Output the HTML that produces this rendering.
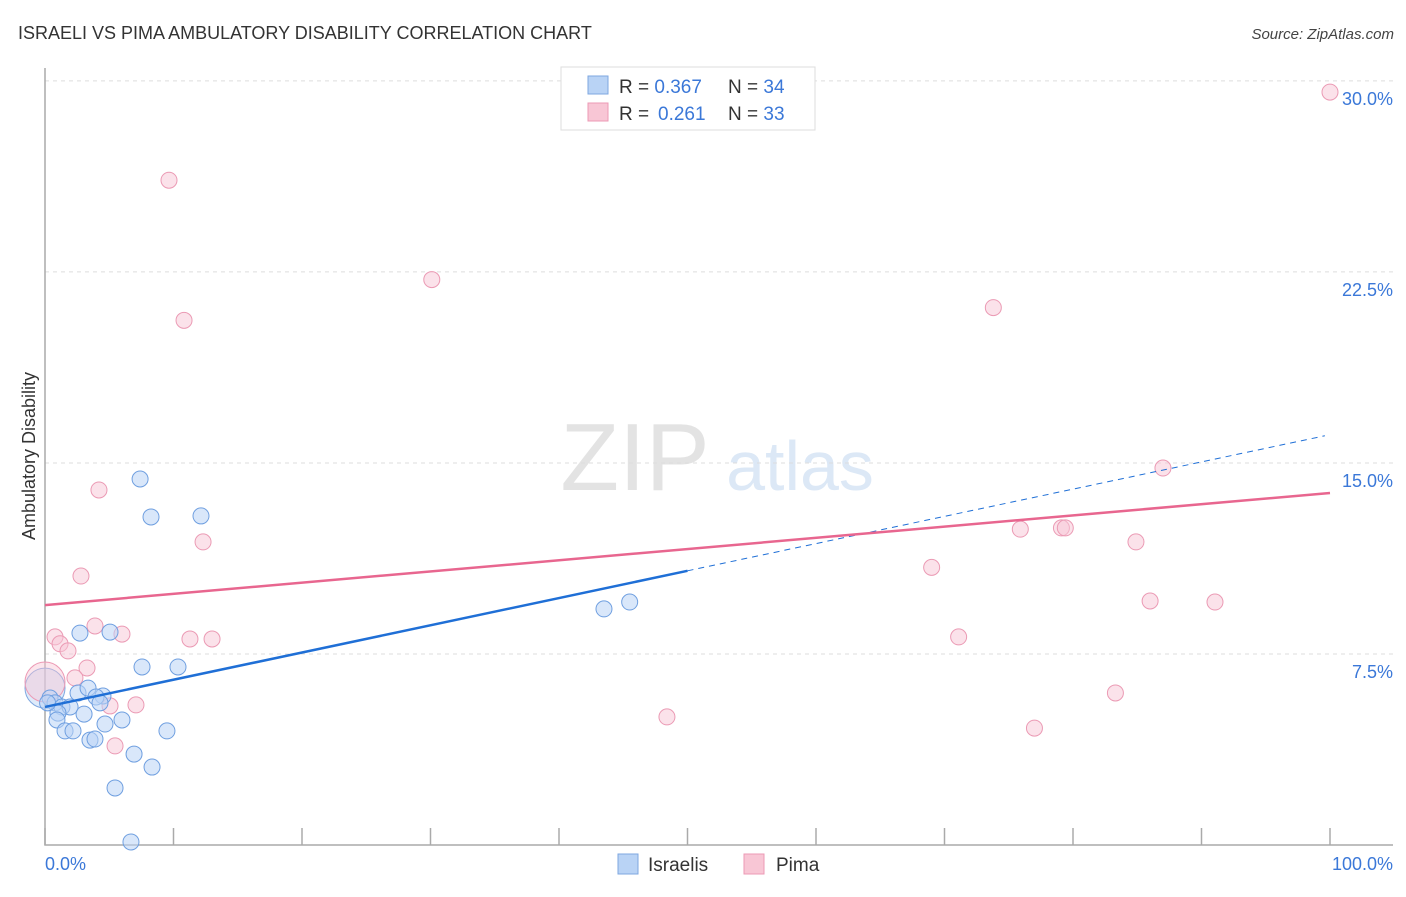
<!DOCTYPE html>
<html><head><meta charset="utf-8"><style>
body{margin:0;background:#fff;font-family:"Liberation Sans",sans-serif;}
svg text{font-family:"Liberation Sans",sans-serif;}
</style></head><body>
<svg id="chart" width="1406" height="892" viewBox="0 0 1406 892">
<text x="18" y="39" font-size="18" fill="#333">ISRAELI VS PIMA AMBULATORY DISABILITY CORRELATION CHART</text>
<text x="1394" y="39" font-size="15" fill="#444" font-style="italic" text-anchor="end">Source: ZipAtlas.com</text>
<text x="635" y="490" font-size="96" fill="#e3e3e3" text-anchor="middle" font-family="Liberation Serif">ZIP</text>
<text x="800" y="490" font-size="70" fill="#dce8f6" text-anchor="middle">atlas</text>
<g id="grid"></g>
<g id="axes"></g>
<g id="pts"></g>
<g id="lines"></g>
<text transform="translate(35,456) rotate(-90)" font-size="18" fill="#333" text-anchor="middle">Ambulatory Disability</text>
<text x="45" y="870" font-size="18" fill="#3b78d8">0.0%</text>
<text x="1393" y="870" font-size="18" fill="#3b78d8" text-anchor="end">100.0%</text>
<g>
<rect x="561" y="67" width="254" height="63" fill="#fff" stroke="#ddd"/>
<rect x="588" y="76" width="20" height="18" fill="#b9d3f5" stroke="#7ea7e0"/>
<rect x="588" y="103" width="20" height="18" fill="#f8c6d5" stroke="#ec9ab5"/>
<text x="619" y="93" font-size="19" fill="#333">R = <tspan fill="#3b78d8">0.367</tspan><tspan x="728">N = </tspan><tspan fill="#3b78d8">34</tspan></text>
<text x="619" y="120" font-size="19" fill="#333">R = <tspan fill="#3b78d8" x="658">0.261</tspan><tspan x="728">N = </tspan><tspan fill="#3b78d8">33</tspan></text>
</g>
<g><rect x="618" y="854" width="20" height="20" fill="#b9d3f5" stroke="#7ea7e0"/><text x="648" y="871" font-size="19" fill="#333">Israelis</text></g>
<g><rect x="744" y="854" width="20" height="20" fill="#f8c6d5" stroke="#ec9ab5"/><text x="776" y="871" font-size="19" fill="#333">Pima</text></g>
</svg>
<script>
const yTicks=[7.5,15,22.5,30];
const yTickLabels=["7.5%","15.0%","22.5%","30.0%"];
const israelisX=[7.4,8.25,12.14,2.72,5.06,7.55,10.35,43.5,45.5,2.57,3.35,4.51,3.97,0.39,0.78,1.32,1.95,3.04,1.01,0.93,1.56,2.18,4.67,5.99,9.49,3.5,3.89,6.93,8.33,5.45,6.69,4.28,0.2];
const israelisY=[14.37,12.88,12.92,8.32,8.36,6.99,6.99,9.27,9.54,5.97,6.16,5.85,5.81,5.77,5.58,5.42,5.42,5.14,5.18,4.91,4.48,4.48,4.75,4.91,4.48,4.12,4.16,3.57,3.06,2.24,0.12,5.58,5.58];
const pimaX=[100,9.65,10.82,30.1,73.8,87.0,4.2,12.3,2.8,75.9,79.1,79.4,84.9,69.0,86.0,91.05,71.1,83.3,77.0,48.4,0.78,1.17,1.79,3.89,5.99,11.28,13.0,3.27,2.33,5.06,7.08,5.45];
const pimaY=[29.56,26.1,20.6,22.2,21.1,14.8,13.94,11.9,10.56,12.4,12.45,12.45,11.9,10.9,9.58,9.54,8.17,5.97,4.59,5.03,8.17,7.9,7.62,8.6,8.28,8.09,8.09,6.95,6.56,5.46,5.5,3.89];
const israelisTrend=[5.42,0.1069];
const pimaTrend=[9.42,0.044];
const NS="http://www.w3.org/2000/svg";
const sx=v=>45+v*12.85, sy=v=>845-v*25.47;
function mk(tag,attrs,parent){const e=document.createElementNS(NS,tag);for(const k in attrs)e.setAttribute(k,attrs[k]);parent.appendChild(e);return e;}
const grid=document.getElementById('grid'),axes=document.getElementById('axes'),pts=document.getElementById('pts'),lines=document.getElementById('lines');
yTicks.forEach((t,i)=>{
 const l=mk('line',{x1:45,x2:1393,y1:sy(t),y2:sy(t),stroke:'#ddd','stroke-dasharray':'4,4'},grid);
 
 
 const tx=mk('text',{x:1393,y:sy(t)+24,'font-size':18,fill:'#3b78d8','text-anchor':'end'},grid);
 tx.textContent=yTickLabels[i];
 
 
});
const ax=mk('path',{d:'M45,68V845H1393',fill:'none',stroke:'#aaa','stroke-width':1.5},axes);


for(let i=0;i<=10;i++){
 const t=mk('line',{x1:sx(i*10),x2:sx(i*10),y1:828,y2:845,stroke:'#aaa','stroke-width':1.5},axes);
 
 
}
function big(x,y,fill,stroke){const c=mk('circle',{cx:sx(x),cy:sy(y),r:20,fill:fill,'fill-opacity':0.45,stroke:stroke},pts);
 
 }
big(0,6.16,'#b9d3f5','#7ea7e0');big(0,6.4,'#f8c6d5','#ec9ab5');
pimaX.forEach((x,i)=>{const c=mk('circle',{cx:sx(x),cy:sy(pimaY[i]),r:8,fill:'#f8c6d5','fill-opacity':0.5,stroke:'#eb9ab4','stroke-width':1},pts);
 
 });
israelisX.forEach((x,i)=>{const c=mk('circle',{cx:sx(x),cy:sy(israelisY[i]),r:8,fill:'#b9d3f5','fill-opacity':0.55,stroke:'#6f9fe0','stroke-width':1},pts);
 
 });
const f=(tr,x)=>tr[0]+tr[1]*x;
const bs=mk('line',{x1:sx(0),y1:sy(f(israelisTrend,0)),x2:sx(50),y2:sy(f(israelisTrend,50)),stroke:'#1f6fd6','stroke-width':2.5},lines);


const bd=mk('line',{x1:sx(50),y1:sy(f(israelisTrend,50)),x2:sx(99.6),y2:sy(f(israelisTrend,99.6)),stroke:'#1f6fd6','stroke-width':1,'stroke-dasharray':'6,5'},lines);


const pl=mk('line',{x1:sx(0),y1:sy(f(pimaTrend,0)),x2:sx(100),y2:sy(f(pimaTrend,100)),stroke:'#e8668f','stroke-width':2.5},lines);


</script>
</body></html>
